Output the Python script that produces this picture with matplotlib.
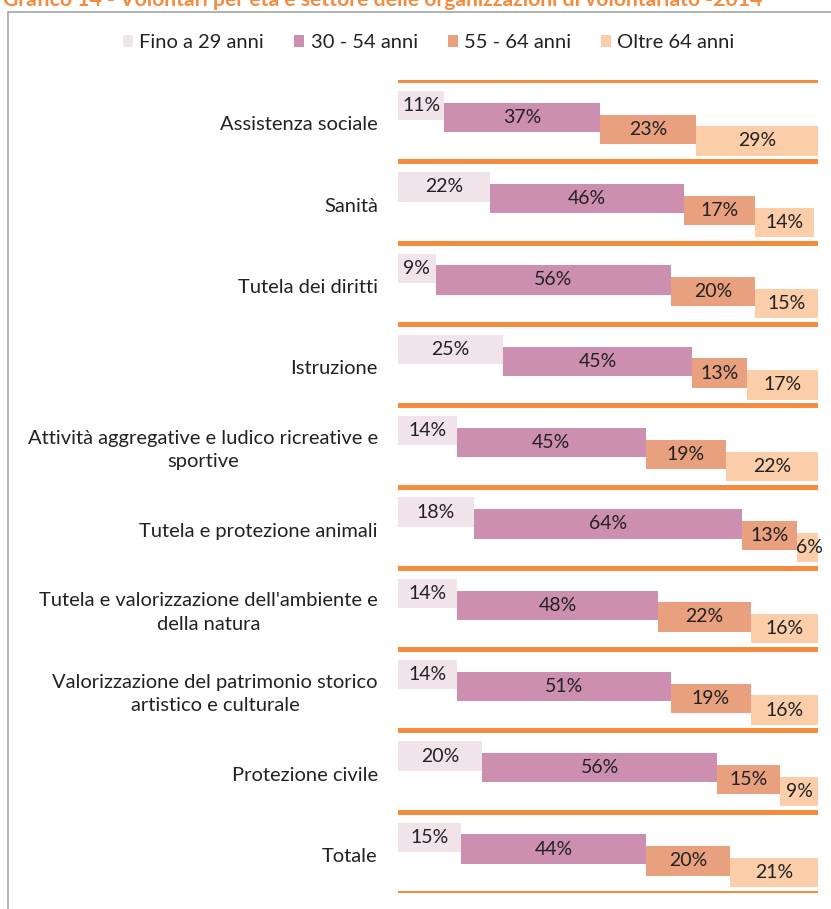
import numpy as np
import matplotlib.pyplot as plt
from matplotlib.patches import Patch, Rectangle

plt.rcParams['font.family'] = ['Lato', 'DejaVu Sans']

categories = [
    "Assistenza sociale",
    "Sanità",
    "Tutela dei diritti",
    "Istruzione",
    "Attività aggregative e ludico ricreative e\nsportive",
    "Tutela e protezione animali",
    "Tutela e valorizzazione dell'ambiente e\ndella natura",
    "Valorizzazione del patrimonio storico\nartistico e culturale",
    "Protezione civile",
    "Totale",
]
age_groups = ["Fino a 29 anni", "30 - 54 anni", "55 - 64 anni", "Oltre 64 anni"]
fino_29 = [11, 22, 9, 25, 14, 18, 14, 14, 20, 15]
da_30_54 = [37, 46, 56, 45, 45, 64, 48, 51, 56, 44]
da_55_64 = [23, 17, 20, 13, 19, 13, 22, 19, 15, 20]
oltre_64 = [29, 14, 15, 17, 22, 6, 16, 16, 9, 21]

colors = ["#F1E3EA", "#CD8FAF", "#E9A07F", "#FBCDA9"]
line_color = "#F58B3E"
text_color = "#222222"

W, H = 831, 909
fig = plt.figure(figsize=(W / 100, H / 100), dpi=100)

# frame around the chart
fig.add_artist(Rectangle((8 / W, -0.05), 1.2, 1 - 12 / H + 0.05,
                         transform=fig.transFigure, fill=False,
                         edgecolor="#A6A6A6", linewidth=1.2))

# cut-off title on top
fig.text(3 / W, 1 - 6 / H, "Grafico 14 - Volontari per età e settore delle organizzazioni di volontariato -2014",
         color="#F58B3E", fontsize=15.2, fontweight="bold", ha="left", va="baseline")

left, right = 398 / W, 818 / W
top, bottom = 1 - 80 / H, 1 - 893 / H
ax = fig.add_axes([left, bottom, right - left, top - bottom])
ax.set_xlim(0, 100)
ax.set_ylim(len(categories), 0)

series = np.array([fino_29, da_30_54, da_55_64, oltre_64])
seg_h = 0.36
first_c = 0.315
step = 0.145

for i, cat in enumerate(categories):
    start = 0
    for j in range(4):
        v = series[j, i]
        yc = i + first_c + j * step
        ax.barh(yc, v, left=start, height=seg_h, color=colors[j], edgecolor="none")
        ax.text(start + v / 2, yc, f"{v}%", ha="center", va="center",
                fontsize=14, color=text_color)
        start += v
    ax.text(-4.8, i + 0.55, cat, ha="right", va="center", multialignment="center",
            fontsize=14.5, color=text_color, clip_on=False, linespacing=1.45)

for k in range(len(categories) + 1):
    ax.axhline(k, color=line_color, linewidth=3.6)

ax.set_xticks([])
ax.set_yticks([])
for s in ax.spines.values():
    s.set_visible(False)

handles = [Patch(facecolor=c, edgecolor="none") for c in colors]
fig.legend(handles, age_groups, loc="center", bbox_to_anchor=(429 / W, 1 - 43 / H),
           ncol=4, frameon=False, fontsize=14.5, handlelength=0.5, handleheight=0.55,
           handletextpad=0.3, columnspacing=1.5, labelcolor=text_color,
           borderpad=0, borderaxespad=0)

fig.savefig("out.png", dpi=100)
